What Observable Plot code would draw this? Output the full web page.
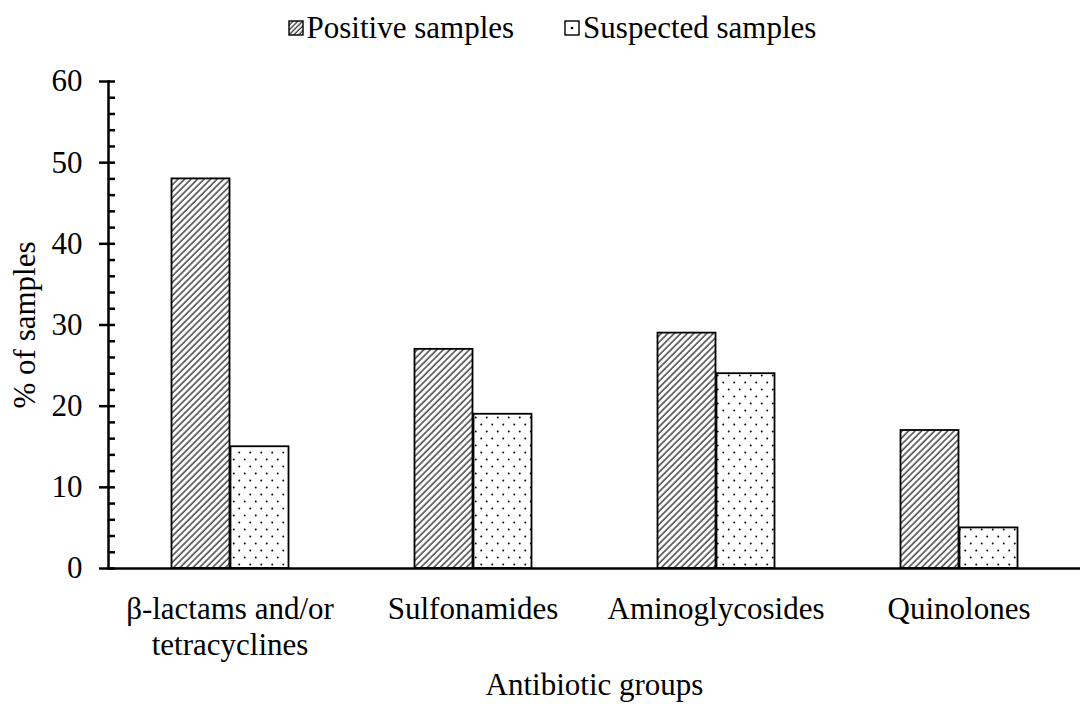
<!DOCTYPE html>
<html>
<head>
<meta charset="utf-8">
<script src="https://cdn.jsdelivr.net/npm/d3@7"></script>
<script src="https://cdn.jsdelivr.net/npm/@observablehq/plot@0.6"></script>
<style>
  body { margin: 0; background: #fff; font-family: "Liberation Serif", "Times New Roman", serif; }
  #legend { height: 50px; display: flex; justify-content: center; align-items: center; gap: 50px; font-size: 31px; color: #000; padding-left: 24px; box-sizing: border-box; padding-top: 6px; }
  #legend .item { display: flex; align-items: center; gap: 3px; }
  #legend svg { display: block; }
</style>
</head>
<body>
<svg width="0" height="0" style="position:absolute">
  <defs>
    <pattern id="hatch" patternUnits="userSpaceOnUse" width="4.6" height="4.6" patternTransform="rotate(45)">
      <rect width="4.6" height="4.6" fill="#fff"/>
      <line x1="1" y1="0" x2="1" y2="4.6" stroke="#000" stroke-width="1.1"/>
    </pattern>
    <pattern id="hatchSmall" patternUnits="userSpaceOnUse" width="3.4" height="3.4" patternTransform="rotate(45)">
      <rect width="3.4" height="3.4" fill="#fff"/>
      <line x1="1" y1="0" x2="1" y2="3.4" stroke="#000" stroke-width="1"/>
    </pattern>
    <pattern id="dots" patternUnits="userSpaceOnUse" width="11" height="14">
      <rect width="11" height="14" fill="#fff"/>
      <circle cx="2.75" cy="3.5" r="0.95" fill="#000"/>
      <circle cx="8.25" cy="10.5" r="0.95" fill="#000"/>
    </pattern>
  </defs>
</svg>
<div id="legend"></div>
<div id="chart"></div>
<script>
const categories = ["β-lactams and/or\ntetracyclines", "Sulfonamides", "Aminoglycosides", "Quinolones"];
const positive = [48, 27, 29, 17];
const suspected = [15, 19, 24, 5];
const seriesNames = ["Positive samples", "Suspected samples"];
const yTicksMajor = [0, 10, 20, 30, 40, 50, 60];
const yTicksMinor = d3.range(0, 61, 2);

const dataPos = categories.map((c, i) => ({category: c, value: positive[i]}));
const dataSus = categories.map((c, i) => ({category: c, value: suspected[i]}));

// Legend
const legend = d3.select("#legend");
seriesNames.forEach((name, i) => {
  const it = legend.append("div").attr("class", "item");
  const s = it.append("svg").attr("width", 16).attr("height", 16);
  s.append("rect").attr("x", 1).attr("y", 1).attr("width", 14).attr("height", 14)
    .attr("fill", i === 0 ? "url(#hatchSmall)" : "#fff").attr("stroke", "#000").attr("stroke-width", 1.4);
  if (i === 1) s.append("circle").attr("cx", 8).attr("cy", 8).attr("r", 1.3).attr("fill", "#000");
  it.append("span").text(name);
});

const chart = Plot.plot({
  width: 1080,
  height: 654,
  marginTop: 31,
  marginBottom: 136,
  marginLeft: 108,
  marginRight: 0,
  style: {fontFamily: "Liberation Serif, Times New Roman, serif", fontSize: "31px", color: "#000", background: "#fff"},
  x: {domain: categories, padding: 0},
  y: {domain: [0, 60]},
  marks: [
    Plot.barY(dataPos, {x: "category", y: "value", fill: "url(#hatch)", stroke: "#000", strokeWidth: 1.8, insetLeft: 63.5, insetRight: 121.5}),
    Plot.barY(dataSus, {x: "category", y: "value", fill: "url(#dots)", stroke: "#000", strokeWidth: 1.8, insetLeft: 122.5, insetRight: 62.5}),
    Plot.axisY({ticks: yTicksMinor, tickSize: -7, tickFormat: () => "", strokeWidth: 2.5, label: null}),
    Plot.axisY({ticks: yTicksMajor, tickSize: 9, tickPadding: 17, strokeWidth: 2.5, fontSize: 31,
      label: "% of samples", labelArrow: "none", labelAnchor: "center", labelOffset: 96}),
    Plot.frame({anchor: "left", strokeWidth: 2.5}),
    Plot.ruleY([0], {strokeWidth: 2.5}),
    Plot.axisX({tickSize: 0, tickPadding: 25, fontSize: 31, lineHeight: 1.16,
      label: "Antibiotic groups", labelArrow: "none", labelAnchor: "center", labelOffset: 126})
  ]
});
document.getElementById("chart").appendChild(chart);
</script>
</body>
</html>
